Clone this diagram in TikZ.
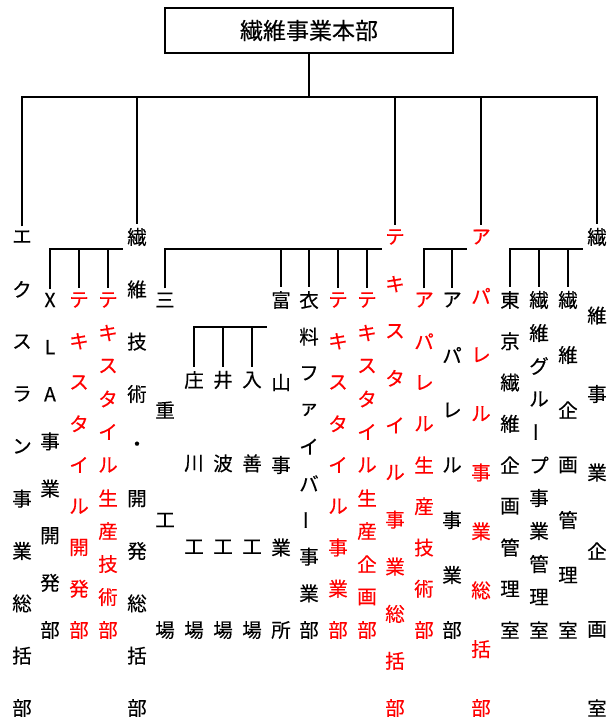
\documentclass[tikz,border=0pt]{standalone}
\usepackage{fontspec}
\setmainfont{Noto Sans CJK JP}[FakeBold=0.3]
\usepackage{graphicx}
\definecolor{jred}{RGB}{255,0,0}
\tikzset{
  x=1pt, y=-1pt,
  ch/.style={inner sep=0pt, font=\fontsize{19.5}{19.5}\selectfont},
  conn/.style={line width=2.2pt, line join=miter},
  drop/.style={conn, shorten >=4pt},
  topbox/.style={draw, line width=2pt, minimum width=288pt, minimum height=45pt, inner sep=0pt, font=\fontsize{23}{23}\selectfont},
}
\newcommand\vcol[7]{%
  \foreach \ch [count=\i] in {#7}{%
    \node[ch, text=#6] (#1-\i) at ({#2}, {#3+(\i-1)*(#4-#3)/(#5-1)}) {\ch};
  }%
}
\newcommand\vbar{\rotatebox[origin=c]{90}{ー}}
\begin{document}
\begin{tikzpicture}
\useasboundingbox (0,0) rectangle (610,720);
\node[topbox] (top) at (309,30.5) {繊維事業本部};
% level 1
\vcol{e}{22}{237}{708}{10}{black}{エ,ク,ス,ラ,ン,事,業,総,括,部}
\vcol{g}{137}{237}{708}{10}{black}{繊,維,技,術,・,開,発,総,括,部}
\vcol{t}{395}{237}{708}{11}{jred}{テ,キ,ス,タ,イ,ル,事,業,総,括,部}
\vcol{a}{481}{237}{708}{9}{jred}{ア,パ,レ,ル,事,業,総,括,部}
\vcol{k}{597}{237}{708}{7}{black}{繊,維,事,業,企,画,室}
% level 2
\vcol{xla}{50}{300}{630}{8}{black}{X,L,A,事,業,開,発,部}
\vcol{tk}{79}{300}{630}{9}{jred}{テ,キ,ス,タ,イ,ル,開,発,部}
\vcol{tg}{108}{300}{630}{11}{jred}{テ,キ,ス,タ,イ,ル,生,産,技,術,部}
\vcol{mie}{165}{300}{630}{4}{black}{三,重,工,場}
\vcol{tom}{281}{300}{630}{5}{black}{富,山,事,業,所}
\vcol{iry}{309}{300}{630}{10}{black}{衣,料,フ,ァ,イ,バ,\vbar,事,業,部}
\vcol{tj}{338}{300}{630}{9}{jred}{テ,キ,ス,タ,イ,ル,事,業,部}
\vcol{ts}{367}{300}{630}{11}{jred}{テ,キ,ス,タ,イ,ル,生,産,企,画,部}
\vcol{as}{424}{300}{630}{9}{jred}{ア,パ,レ,ル,生,産,技,術,部}
\vcol{aj}{452}{300}{630}{7}{black}{ア,パ,レ,ル,事,業,部}
\vcol{tky}{510}{300}{630}{9}{black}{東,京,繊,維,企,画,管,理,室}
\vcol{grp}{539}{300}{630}{11}{black}{繊,維,グ,ル,\vbar,プ,事,業,管,理,室}
\vcol{kk}{568}{300}{630}{7}{black}{繊,維,企,画,管,理,室}
% level 3
\vcol{sho}{194}{380}{630}{4}{black}{庄,川,工,場}
\vcol{ina}{223}{380}{630}{4}{black}{井,波,工,場}
\vcol{nyu}{252}{380}{630}{4}{black}{入,善,工,場}
% main bar
\coordinate (m0) at (309,97);
\draw[conn] (top.south) -- (m0);
\draw[conn, shorten <=4pt, shorten >=4pt] (e-1.north) -- (e-1 |- m0) -- (k-1 |- m0) -- (k-1.north);
\draw[drop] (g-1 |- m0) -- (g-1.north);
\draw[drop] (t-1 |- m0) -- (t-1.north);
\draw[drop] (a-1 |- m0) -- (a-1.north);
% sub bars
\coordinate (bg) at (123,249);
\coordinate (bt) at (382,249);
\coordinate (ba) at (467,249);
\coordinate (bk) at (583,249);
\coordinate (bm) at (267,327);
\draw[conn, shorten <=4pt] (xla-1.north) -- (xla-1 |- bg) -- (bg);
\draw[drop] (tk-1 |- bg) -- (tk-1.north);
\draw[drop] (tg-1 |- bg) -- (tg-1.north);
\draw[conn, shorten <=4pt] (mie-1.north) -- (mie-1 |- bt) -- (bt);
\draw[drop] (tom-1 |- bt) -- (tom-1.north);
\draw[drop] (iry-1 |- bt) -- (iry-1.north);
\draw[drop] (tj-1 |- bt) -- (tj-1.north);
\draw[drop] (ts-1 |- bt) -- (ts-1.north);
\draw[conn, shorten <=4pt] (as-1.north) -- (as-1 |- ba) -- (ba);
\draw[drop] (aj-1 |- ba) -- (aj-1.north);
\draw[conn, shorten <=4pt] (tky-1.north) -- (tky-1 |- bk) -- (bk);
\draw[drop] (grp-1 |- bk) -- (grp-1.north);
\draw[drop] (kk-1 |- bk) -- (kk-1.north);
\draw[conn, shorten <=4pt] (sho-1.north) -- (sho-1 |- bm) -- (bm);
\draw[drop] (ina-1 |- bm) -- (ina-1.north);
\draw[drop] (nyu-1 |- bm) -- (nyu-1.north);
\end{tikzpicture}
\end{document}
